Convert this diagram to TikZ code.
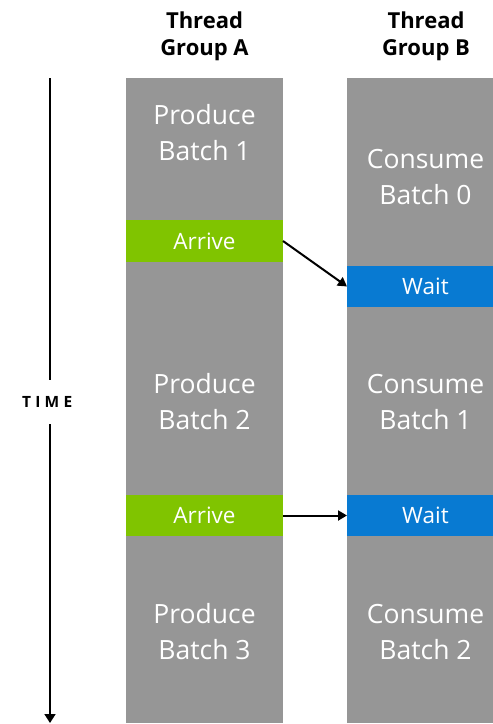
\documentclass[tikz,border=0pt]{standalone}
\usepackage{fontspec}
\setmainfont{Open Sans}
\usetikzlibrary{arrows.meta}
\definecolor{colgray}{RGB}{150,150,150}
\definecolor{nvgreen}{RGB}{128,196,0}
\definecolor{waitblue}{RGB}{8,122,210}
\begin{document}
\begin{tikzpicture}[x=1pt,y=-1pt,
  column/.style={fill=colgray, draw=none, minimum width=157pt, minimum height=645pt, inner sep=0pt, outer sep=0pt},
  arrivebox/.style={fill=nvgreen, minimum width=157pt, minimum height=42pt, inner sep=0pt, outer sep=0pt, text=white, font=\fontsize{22.5}{27}\selectfont},
  waitbox/.style={arrivebox, fill=waitblue, minimum height=41pt},
  phase/.style={text=white, align=center, inner sep=0pt, font=\fontsize{26.5}{36}\selectfont},
  header/.style={align=center, inner sep=0pt, font=\fontsize{22}{27}\selectfont\bfseries},
  link/.style={line width=2pt, -{Triangle[length=9pt,width=10pt]}},
  timeline/.style={line width=1.8pt},
]
\clip (0,0) rectangle (493,724);
\fill[white] (0,0) rectangle (493,724);
% columns
\node[column] (colA) at (204.5,400.5) {};
\node[column] (colB) at (425.5,400.5) {};
% sync boxes
\node[arrivebox] (arrive1) at (204.5,241) {Arrive};
\node[waitbox] (wait1) at (425.5,286.5) {Wait};
\node[arrivebox, minimum height=41pt] (arrive2) at (204.5,515.5) {Arrive};
\node[waitbox] (wait2) at (425.5,515.5) {Wait};
% phase labels
\node[phase] (p1) at (204.5,132.5) {Produce\\Batch 1};
\node[phase] (c0) at (425.5,177.5) {Consume\\Batch 0};
\node[phase] (p2) at (204.5,402) {Produce\\Batch 2};
\node[phase] (c1) at (425.5,402) {Consume\\Batch 1};
\node[phase] (p3) at (204.5,632) {Produce\\Batch 3};
\node[phase] (c2) at (425.5,632) {Consume\\Batch 2};
% headers
\node[header] (hA) at (204.5,36) {Thread\\Group A};
\node[header] (hB) at (426,36) {Thread\\Group B};
% time axis
\coordinate (tstart) at (50,78);
\coordinate (tend) at (50,723);
\node[inner sep=0pt, font=\fontsize{15.5}{18}\selectfont\bfseries, text height=11pt, text depth=0pt, minimum height=44pt] (time) at (47.2,402) {T\kern4.2pt I\kern4.2pt M\kern4.2pt E};
\draw[timeline] (tstart) -- (tstart |- time.north);
\draw[timeline, -{Triangle[length=9pt,width=11pt]}] (tstart |- time.south) -- (tend);
% connectors
\draw[link] (arrive1.east) -- (wait1.west);
\draw[link] (arrive2.east) -- (wait2.west);
\end{tikzpicture}
\end{document}
